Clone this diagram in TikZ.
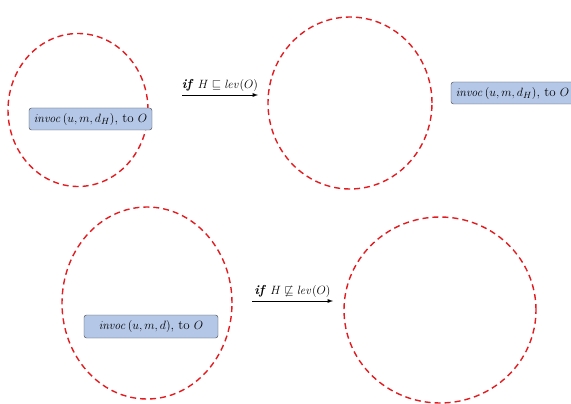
\documentclass[tikz,border=0pt]{standalone}
\usepackage{amssymb}
\usetikzlibrary{shapes.geometric}
\definecolor{boxblue}{RGB}{180,199,231}
\definecolor{ringred}{RGB}{228,28,32}
\tikzset{
  ring/.style={ellipse, draw=ringred, line width=1.4pt, dash pattern=on 6pt off 4pt, inner sep=0pt},
  msgbox/.style={draw=black!75, fill=boxblue, rounded corners=2.5pt, minimum height=22pt, inner xsep=2pt, font=\fontsize{13}{15}\selectfont},
  guard/.style={above, font=\fontsize{13}{15}\selectfont}
}
\begin{document}
\begin{tikzpicture}[x=1pt,y=-1pt]
\useasboundingbox (0,0) rectangle (571,404);
% top row: H below lev(O)
\node[ring, minimum width=140pt, minimum height=153pt] (srcA) at (78,110) {};
\node[ring, minimum width=164pt, minimum height=172pt] (dstA) at (350,103) {};
\node[msgbox, minimum width=123pt] (msgA) at (90.5,119) {$\mathit{invoc}\,(u,m,d_H)$, to $O$};
\node[msgbox, minimum width=123pt] (msgB) at (512.5,93) {$\mathit{invoc}\,(u,m,d_H)$, to $O$};
\coordinate (goA) at (182,95);
\coordinate (toA) at (258,95);
\draw[-latex, line width=0.9pt] (goA) -- (toA) node[midway, guard] {\textbf{\textit{if}} $H \sqsubseteq \mathit{lev}(O)$};
% bottom row: H not below lev(O)
\node[ring, minimum width=170pt, minimum height=192pt] (srcB) at (147,303) {};
\node[ring, minimum width=192pt, minimum height=186pt] (dstB) at (440,310) {};
\node[msgbox, minimum width=134pt, minimum height=23pt] (msgC) at (151,326.5) {$\mathit{invoc}\,(u,m,d)$, to $O$};
\coordinate (goB) at (252,301);
\coordinate (toB) at (333,301);
\draw[-latex, line width=0.9pt] (goB) -- (toB) node[midway, guard] {\textbf{\textit{if}} $H \not\sqsubseteq \mathit{lev}(O)$};
\end{tikzpicture}
\end{document}
